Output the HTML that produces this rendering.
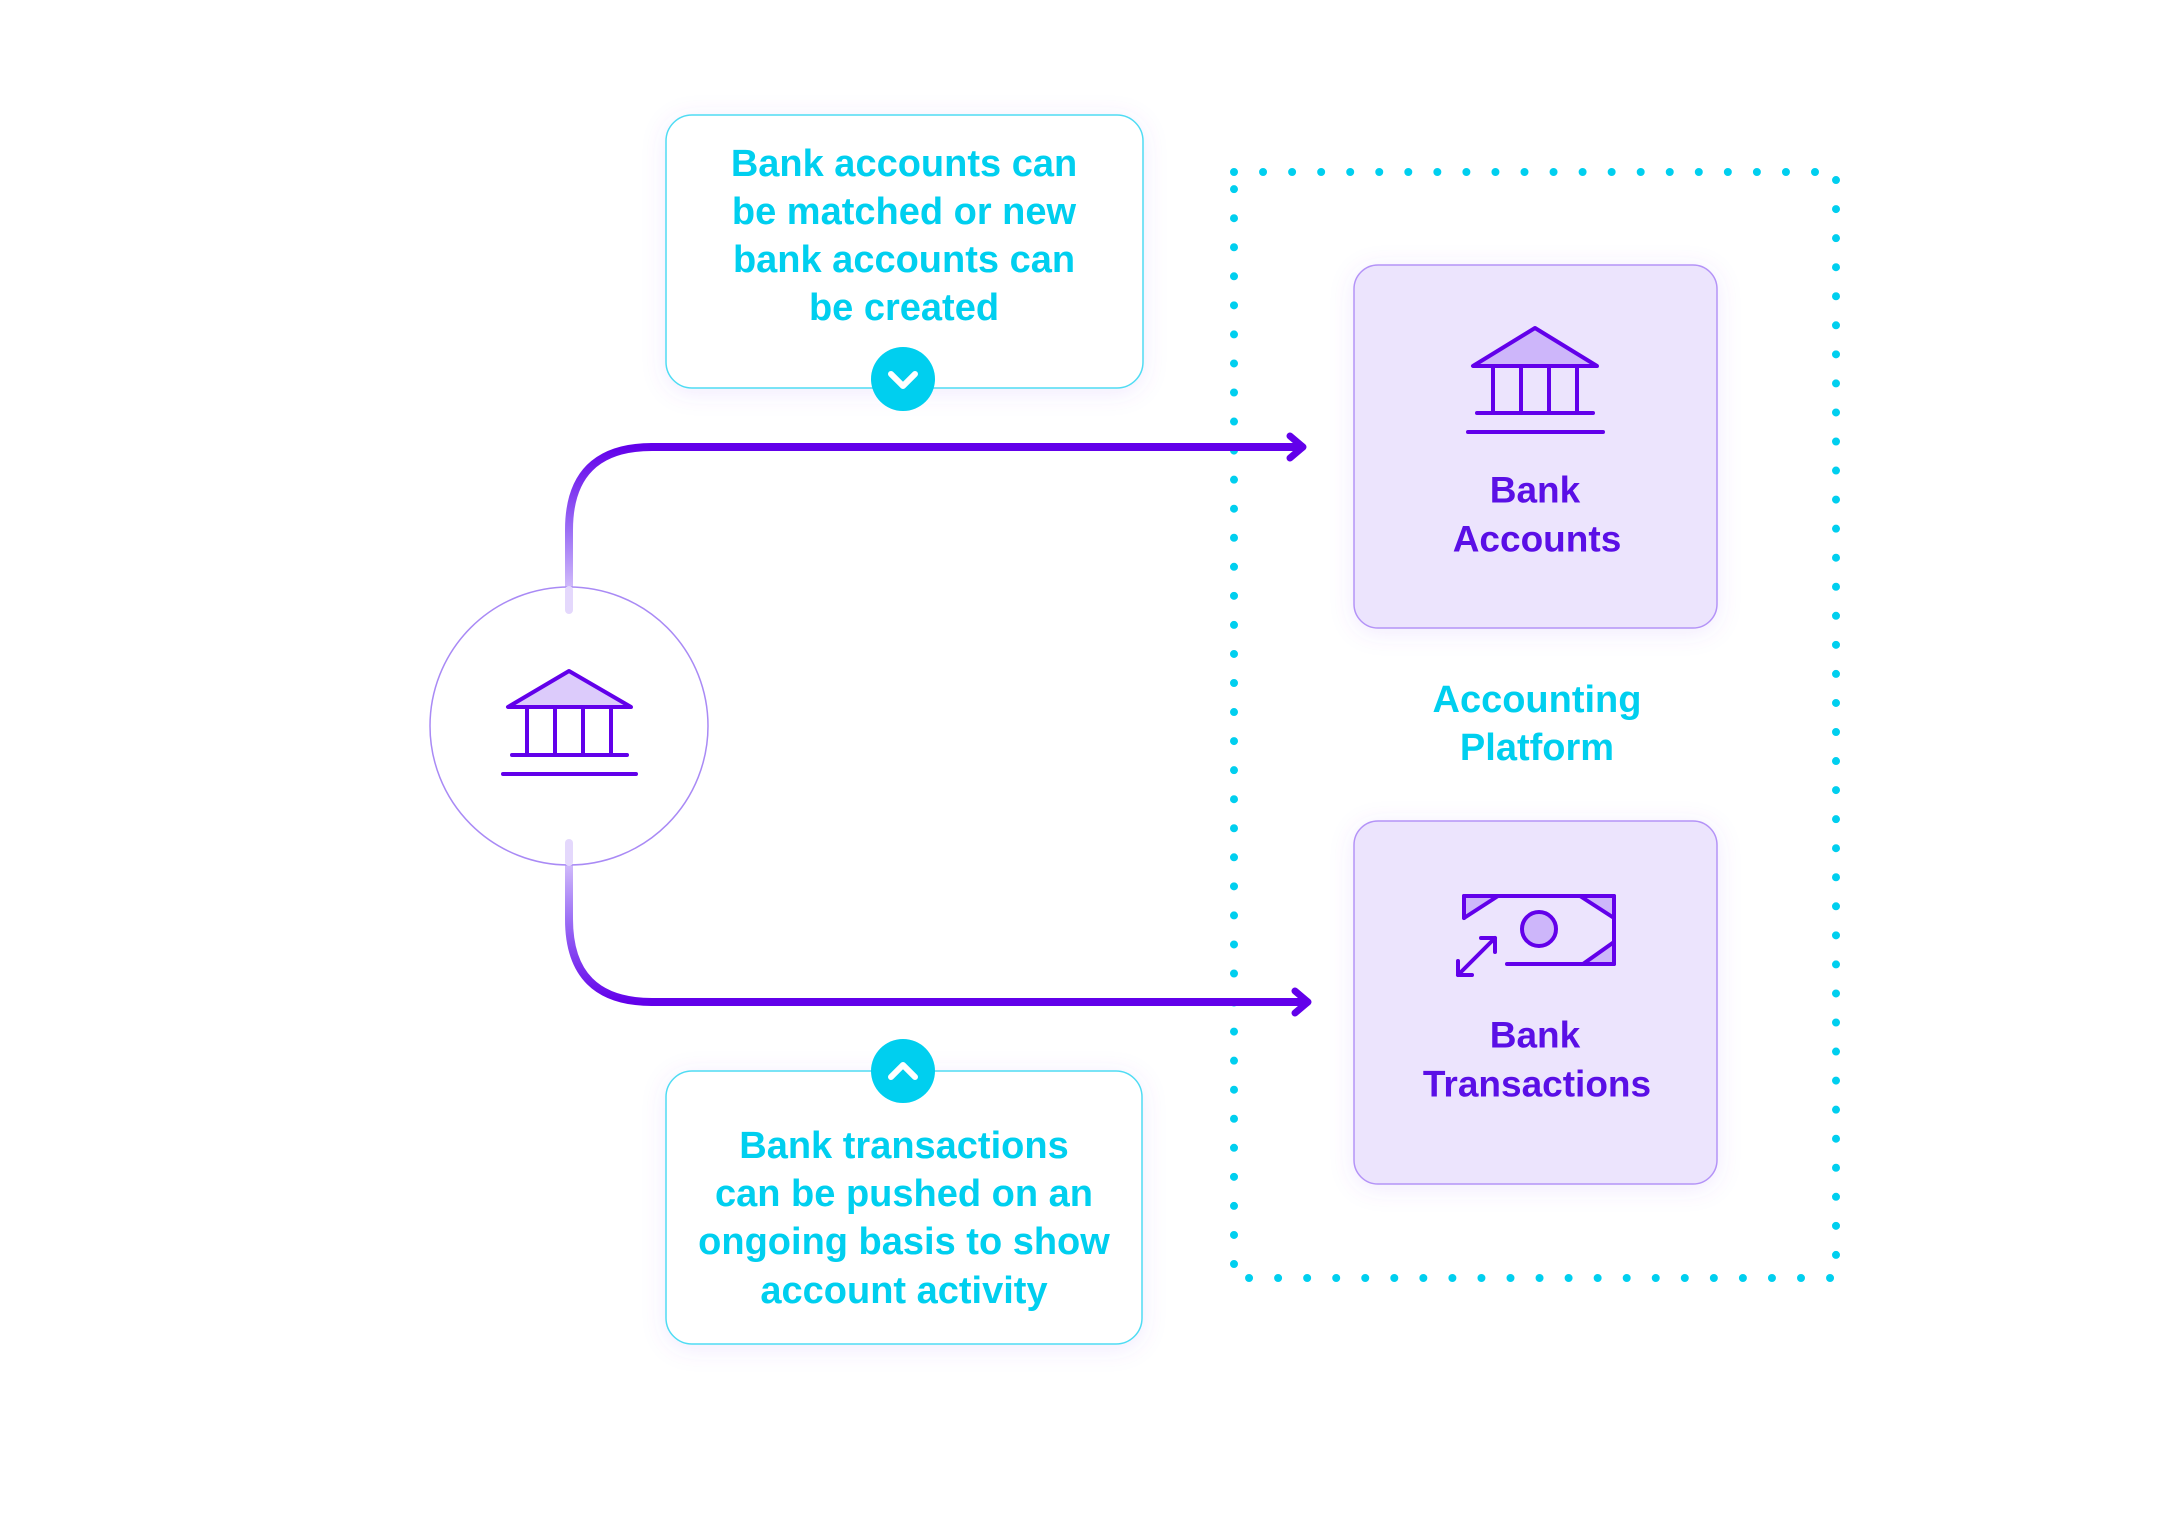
<!DOCTYPE html>
<html><head><meta charset="utf-8"><style>
html,body{margin:0;padding:0;background:#fff;}
svg{display:block;}
text{font-family:"Liberation Sans",sans-serif;font-weight:bold;text-anchor:middle;dominant-baseline:central;}
</style></head><body>
<svg width="2167" height="1516" viewBox="0 0 2167 1516" xmlns="http://www.w3.org/2000/svg">
<defs>
<filter id="sh" x="-20%" y="-20%" width="140%" height="140%"><feDropShadow dx="0" dy="4" stdDeviation="12" flood-color="#8a5cf5" flood-opacity="0.12"/></filter>
<linearGradient id="gu" x1="0" y1="1" x2="0" y2="0"><stop offset="0" stop-color="#e4d8fc"/><stop offset="0.5" stop-color="#9a6cf5"/><stop offset="1" stop-color="#6200ea"/></linearGradient>
<linearGradient id="gd" x1="0" y1="0" x2="0" y2="1"><stop offset="0" stop-color="#e4d8fc"/><stop offset="0.5" stop-color="#9a6cf5"/><stop offset="1" stop-color="#6200ea"/></linearGradient>
</defs>

<rect x="1234" y="172" width="602" height="1106" fill="none" stroke="#00cfef" stroke-width="8" stroke-linecap="round" stroke-dasharray="0 29.05"/>

<path d="M569 610 L569 530 Q569 447 652 447" fill="none" stroke="url(#gu)" stroke-width="8" stroke-linecap="round"/>
<path d="M652 447 L1302 447" stroke="#6200ea" stroke-width="8" stroke-linecap="round"/>
<path d="M1290 436 L1303 447 L1290 458" fill="none" stroke="#6200ea" stroke-width="7" stroke-linecap="round" stroke-linejoin="round"/>
<path d="M569 843 L569 919 Q569 1002 652 1002" fill="none" stroke="url(#gd)" stroke-width="8" stroke-linecap="round"/>
<path d="M652 1002 L1307 1002" stroke="#6200ea" stroke-width="8" stroke-linecap="round"/>
<path d="M1295 991 L1308 1002 L1295 1013" fill="none" stroke="#6200ea" stroke-width="7" stroke-linecap="round" stroke-linejoin="round"/>

<circle cx="569" cy="726" r="139" fill="#fff" stroke="#a98af5" stroke-width="1.5"/>
<line x1="569" y1="590" x2="569" y2="610" stroke="#e4d8fc" stroke-width="8" stroke-linecap="round"/>
<line x1="569" y1="843" x2="569" y2="862" stroke="#e4d8fc" stroke-width="8" stroke-linecap="round"/>
<g stroke="#6200ea" stroke-width="4" stroke-linecap="round" stroke-linejoin="round" fill="none">
<polygon points="569,671 508,707 631,707" fill="#dccbfb"/>
<line x1="527" y1="707" x2="527" y2="755"/><line x1="555" y1="707" x2="555" y2="755"/><line x1="583" y1="707" x2="583" y2="755"/><line x1="611" y1="707" x2="611" y2="755"/>
<line x1="512" y1="755" x2="627" y2="755"/>
<line x1="503" y1="774" x2="636" y2="774"/>
</g>

<rect x="666" y="115" width="477" height="273" rx="26" fill="#fff" stroke="#4fdcf3" stroke-width="1.5" filter="url(#sh)"/>
<g fill="#00cfef" font-size="38">
<text x="904" y="164">Bank accounts can</text>
<text x="904" y="212">be matched or new</text>
<text x="904" y="260">bank accounts can</text>
<text x="904" y="308">be created</text>
</g>
<circle cx="903" cy="379" r="32" fill="#00cfef"/>
<path d="M891 374 L903 386 L915 374" fill="none" stroke="#fff" stroke-width="6" stroke-linecap="round" stroke-linejoin="round"/>

<rect x="666" y="1071" width="476" height="273" rx="26" fill="#fff" stroke="#4fdcf3" stroke-width="1.5" filter="url(#sh)"/>
<g fill="#00cfef" font-size="38">
<text x="904" y="1146">Bank transactions</text>
<text x="904" y="1194">can be pushed on an</text>
<text x="904" y="1242">ongoing basis to show</text>
<text x="904" y="1291">account activity</text>
</g>
<circle cx="903" cy="1071" r="32" fill="#00cfef"/>
<path d="M891 1077 L903 1065 L915 1077" fill="none" stroke="#fff" stroke-width="6" stroke-linecap="round" stroke-linejoin="round"/>

<rect x="1354" y="265" width="363" height="363" rx="24" fill="#ece4fd" stroke="#b493f7" stroke-width="1.5" filter="url(#sh)"/>
<g stroke="#6200ea" stroke-width="4" stroke-linecap="round" stroke-linejoin="round" fill="none">
<polygon points="1535,328 1473,366 1597,366" fill="#cdb6fa"/>
<line x1="1493" y1="366" x2="1493" y2="413"/><line x1="1521" y1="366" x2="1521" y2="413"/><line x1="1549" y1="366" x2="1549" y2="413"/><line x1="1577" y1="366" x2="1577" y2="413"/>
<line x1="1477" y1="413" x2="1593" y2="413"/>
<line x1="1468" y1="432" x2="1603" y2="432"/>
</g>
<g fill="#5a0fe6" font-size="37">
<text x="1535" y="490">Bank</text>
<text x="1537" y="539">Accounts</text>
</g>

<g fill="#00cfef" font-size="38">
<text x="1537" y="700">Accounting</text>
<text x="1537" y="748">Platform</text>
</g>

<rect x="1354" y="821" width="363" height="363" rx="24" fill="#ece4fd" stroke="#b493f7" stroke-width="1.5" filter="url(#sh)"/>
<g stroke="#6200ea" stroke-width="4" stroke-linecap="round" stroke-linejoin="round" fill="none">
<polygon points="1464,896 1498,896 1464,918" fill="#cdb6fa"/>
<polygon points="1580,896 1614,896 1614,918" fill="#cdb6fa"/>
<polygon points="1614,942 1614,964 1583,964" fill="#cdb6fa"/>
<path d="M1464 918 L1464 896 L1614 896 L1614 964 L1507 964" fill="none"/>
<circle cx="1539" cy="929" r="17" fill="#cdb6fa"/>
<line x1="1458" y1="975" x2="1495" y2="938"/>
<path d="M1458 961 L1458 975 L1472 975" fill="none"/>
<path d="M1481 938 L1495 938 L1495 952" fill="none"/>
</g>
<g fill="#5a0fe6" font-size="37">
<text x="1535" y="1035">Bank</text>
<text x="1537" y="1084">Transactions</text>
</g>
</svg>
</body></html>
